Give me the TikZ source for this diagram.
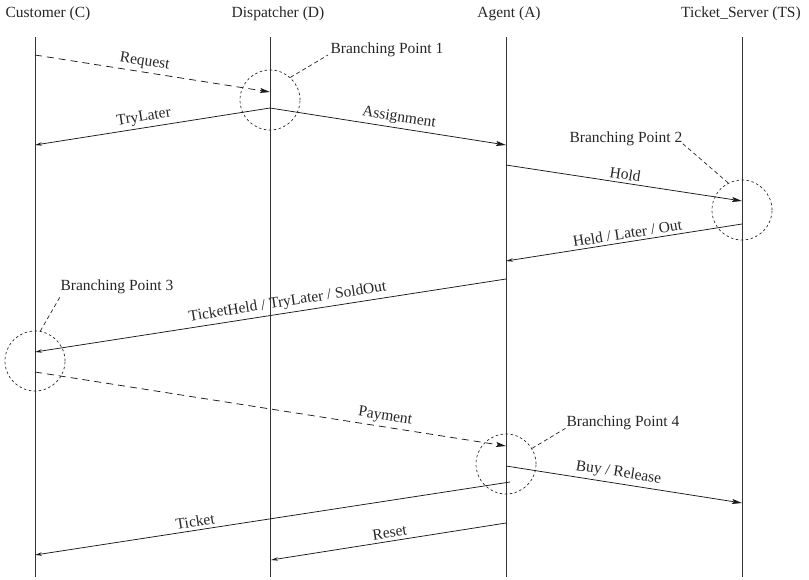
\documentclass[tikz,border=0pt]{standalone}
\usepackage{fontspec}
\setmainfont{Liberation Serif}
\usetikzlibrary{arrows.meta}
\begin{document}
\begin{tikzpicture}[x=1pt,y=-1pt,
  font=\fontsize{15.5}{18}\selectfont,
  lifeline/.style={line width=0.9pt,black!80},
  msg/.style={line width=0.75pt,black!90},
  fwd/.style={msg,-{Stealth[length=10pt,width=5pt,inset=2pt]}},
  bwd/.style={msg,-{Stealth[open,length=7pt,width=3.5pt]}},
  dmsg/.style={dash pattern=on 7pt off 5pt},
  lbl/.style={above,sloped,inner sep=3pt,text=black!85},
  bpcircle/.style={circle,draw,black!85,line width=0.7pt,dash pattern=on 2.5pt off 2.5pt,minimum size=60pt,inner sep=0pt},
  bptext/.style={inner sep=1pt,text=black!85},
  leader/.style={line width=0.7pt,black!85,dash pattern=on 4pt off 3pt},
  header/.style={text=black!85}]
\useasboundingbox (0,0) rectangle (809,579);
% headers
\node[header] (hC) at (48,14) {Customer (C)};
\node[header] (hD) at (278,14) {Dispatcher (D)};
\node[header] (hA) at (509,14) {Agent (A)};
\node[header] (hT) at (741,14) {Ticket\_Server (TS)};
% lifelines
\coordinate (Ct) at (35,37); \coordinate (Cb) at (35,577);
\coordinate (Dt) at (270,37); \coordinate (Db) at (270,577);
\coordinate (At) at (506,37); \coordinate (Ab) at (506,577);
\coordinate (Tt) at (742,37); \coordinate (Tb) at (742,577);
\draw[lifeline] (Ct) -- (Cb);
\draw[lifeline] (Dt) -- (Db);
\draw[lifeline] (At) -- (Ab);
\draw[lifeline] (Tt) -- (Tb);
% message end points
\coordinate (rq1) at (35,55);   \coordinate (rq2) at (270,92);
\coordinate (tl1) at (270,108); \coordinate (tl2) at (35,145);
\coordinate (as1) at (270,108); \coordinate (as2) at (506,145);
\coordinate (ho1) at (506,165); \coordinate (ho2) at (742,201);
\coordinate (he1) at (742,224); \coordinate (he2) at (506,261);
\coordinate (th1) at (506,279); \coordinate (th2) at (35,352);
\coordinate (pa1) at (35,372);  \coordinate (pa2) at (506,446);
\coordinate (br1) at (506,466); \coordinate (br2) at (742,503);
\coordinate (ti1) at (510,482); \coordinate (ti2) at (35,555);
\coordinate (re1) at (506,523); \coordinate (re2) at (271,560);
% messages
\draw[fwd,dmsg] (rq1) -- node[lbl,pos=0.46] {Request} (rq2);
\draw[bwd] (tl1) -- node[lbl,pos=0.53] {TryLater} (tl2);
\draw[fwd] (as1) -- node[lbl,pos=0.54] {Assignment} (as2);
\draw[fwd] (ho1) -- node[lbl,pos=0.5] {Hold} (ho2);
\draw[bwd] (he1) -- node[lbl,pos=0.48] {Held / Later / Out} (he2);
\draw[bwd] (th1) -- node[lbl,pos=0.46] {TicketHeld / TryLater / SoldOut} (th2);
\draw[fwd,dmsg] (pa1) -- node[lbl,pos=0.74] {Payment} (pa2);
\draw[fwd] (br1) -- node[lbl,pos=0.47] {Buy / Release} (br2);
\draw[bwd] (ti1) -- node[lbl,pos=0.66] {Ticket} (ti2);
\draw[bwd] (re1) -- node[lbl,pos=0.49] {Reset} (re2);
% branching points
\node[bpcircle] (bp1) at (270,100) {};
\node[bpcircle] (bp2) at (742,210) {};
\node[bpcircle] (bp3) at (35,361) {};
\node[bpcircle] (bp4) at (506,464) {};
\node[bptext] (bt1) at (387,50) {Branching Point 1};
\node[bptext] (bt2) at (626,139) {Branching Point 2};
\node[bptext] (bt3) at (117,287) {Branching Point 3};
\node[bptext] (bt4) at (623,423) {Branching Point 4};
\coordinate (bl1) at (328,55);
\coordinate (bl2) at (682,143);
\coordinate (bl3) at (60,297);
\coordinate (bl4) at (566,428);
\draw[leader] (bp1.48) -- (bl1);
\draw[leader] (bp2.117) -- (bl2);
\draw[leader] (bp3.80) -- (bl3);
\draw[leader] (bp4.31) -- (bl4);
\end{tikzpicture}
\end{document}
